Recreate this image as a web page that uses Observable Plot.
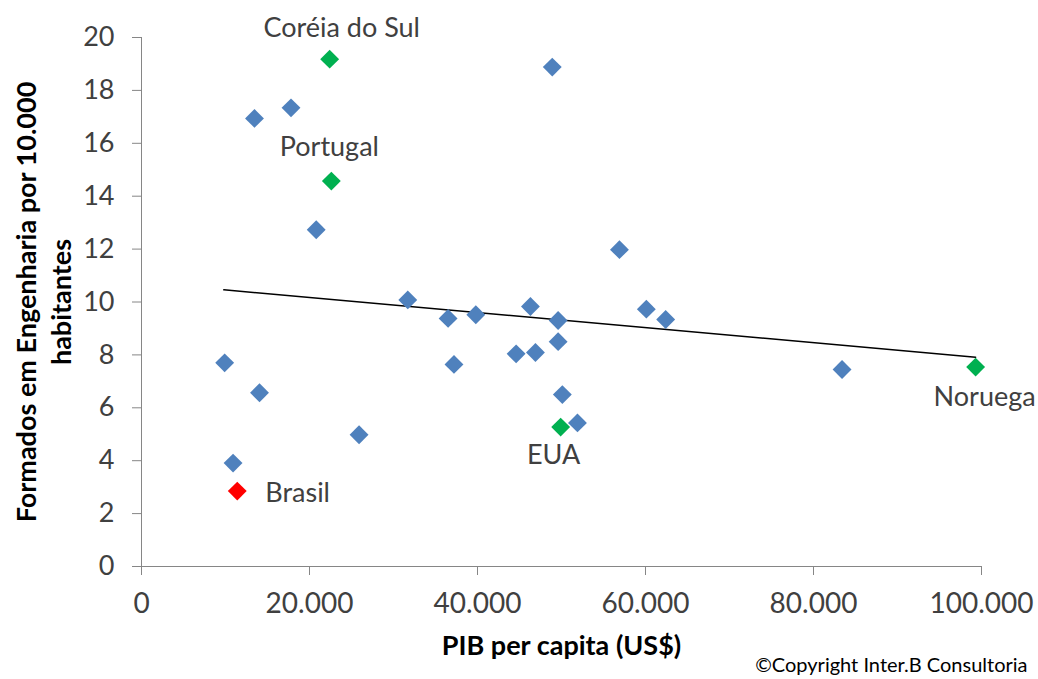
<!DOCTYPE html>
<html>
<head>
<meta charset="utf-8">
<script src="https://cdn.jsdelivr.net/npm/d3@7"></script>
<script src="https://cdn.jsdelivr.net/npm/@observablehq/plot@0.6"></script>
<style>
  body { margin: 0; background: #fff; font-family: Lato, sans-serif; }
  #grafico { width: 1038px; height: 679px; }
</style>
</head>
<body>
<div id="grafico"></div>
<script>
// PIB per capita (US$) e formados em engenharia por 10.000 habitantes
let pibPaises = [13450, 17800, 20800, 48900, 9900, 14050, 25900, 10900, 31700, 56900,
  36500, 39800, 46300, 49600, 60100, 62400, 37200, 44600, 46900, 49600, 50100, 51900, 83400];
let formadosPaises = [16.94, 17.34, 12.73, 18.88, 7.70, 6.57, 4.98, 3.91, 10.08, 11.98,
  9.38, 9.52, 9.83, 9.30, 9.73, 9.34, 7.64, 8.04, 8.09, 8.50, 6.50, 5.43, 7.45];

// paises destacados
let destaqueNomes = ["Coréia do Sul", "Portugal", "EUA", "Noruega", "Brasil"];
let destaquePib = [22400, 22600, 49900, 99300, 11400];
let destaqueFormados = [19.18, 14.57, 5.27, 7.54, 2.85];

// linha de tendencia (extremos)
let tendenciaPib = [9800, 99300];
let tendenciaFormados = [10.46, 7.91];

let ticksX = [0, 20000, 40000, 60000, 80000, 100000];
let ticksY = [0, 2, 4, 6, 8, 10, 12, 14, 16, 18, 20];

let dados = pibPaises.map((x, i) => ({x: x, y: formadosPaises[i]}))
let destaques = destaqueNomes.map((nome, i) => ({nome: nome, x: destaquePib[i], y: destaqueFormados[i]}))
let tendencia = tendenciaPib.map((x, i) => ({x: x, y: tendenciaFormados[i]}))

const formatoBR = d3.formatLocale({decimal: ",", thousands: ".", grouping: [3], currency: ["R$", ""]}).format(",d")
const cinzaEixo = "#868686"
const corTexto = "#404040"

function rotulo(nome, opcoes) {
  return Plot.text(destaques.filter(d => d.nome == nome), {
    x: "x", y: "y", text: "nome", fontSize: 27, fill: corTexto, ...opcoes
  })
}

let chart = Plot.plot({
  width: 1038,
  height: 679,
  marginLeft: 141,
  marginRight: 57,
  marginTop: 37,
  marginBottom: 113,
  style: {fontFamily: "Lato, sans-serif", background: "#fff"},
  x: {domain: [0, 100000]},
  y: {domain: [0, 20]},
  marks: [
    Plot.axisX({ticks: ticksX, tickFormat: formatoBR, tickSize: 9, tickPadding: 18,
      fontSize: 28, stroke: cinzaEixo, color: corTexto, label: null}),
    Plot.axisY({ticks: ticksY, tickSize: 9, tickPadding: 18,
      fontSize: 27, stroke: cinzaEixo, color: corTexto, label: null}),
    Plot.ruleX([0], {stroke: cinzaEixo}),
    Plot.ruleY([0], {stroke: cinzaEixo}),

    Plot.line(tendencia, {x: "x", y: "y", stroke: "#000", strokeWidth: 1.5}),

    Plot.dot(dados, {x: "x", y: "y", symbol: "diamond2", r: 8.5, fill: "#4F81BD", stroke: null}),
    Plot.dot(destaques, {x: "x", y: "y", symbol: "diamond2", r: 8.5,
      fill: d => d.nome == "Brasil" ? "#FF0000" : "#00B050", stroke: null}),

    rotulo("Coréia do Sul", {dx: 12, dy: -31}),
    rotulo("Portugal", {dx: -2, dy: -34}),
    rotulo("Brasil", {textAnchor: "start", dx: 28, dy: 2}),
    rotulo("EUA", {dx: -7, dy: 28}),
    rotulo("Noruega", {dx: 9, dy: 30}),

    // titulos dos eixos
    Plot.text(["PIB per capita (US$)"], {frameAnchor: "bottom", dy: 88,
      fontSize: 27, fontWeight: "bold", fill: "#000"}),
    Plot.text(["Formados em Engenharia por 10.000\nhabitantes"], {frameAnchor: "left", dx: -99,
      textAnchor: "middle", lineAnchor: "middle", rotate: -90, fontSize: 27, fontWeight: "bold",
      lineHeight: 1.3, fill: "#000"}),
    Plot.text(["©Copyright Inter.B Consultoria"], {frameAnchor: "bottom-right", textAnchor: "end",
      dx: 46, dy: 105, fontSize: 20, fill: "#000"})
  ]
})

d3.select('#grafico').append(() => chart)
</script>
</body>
</html>
